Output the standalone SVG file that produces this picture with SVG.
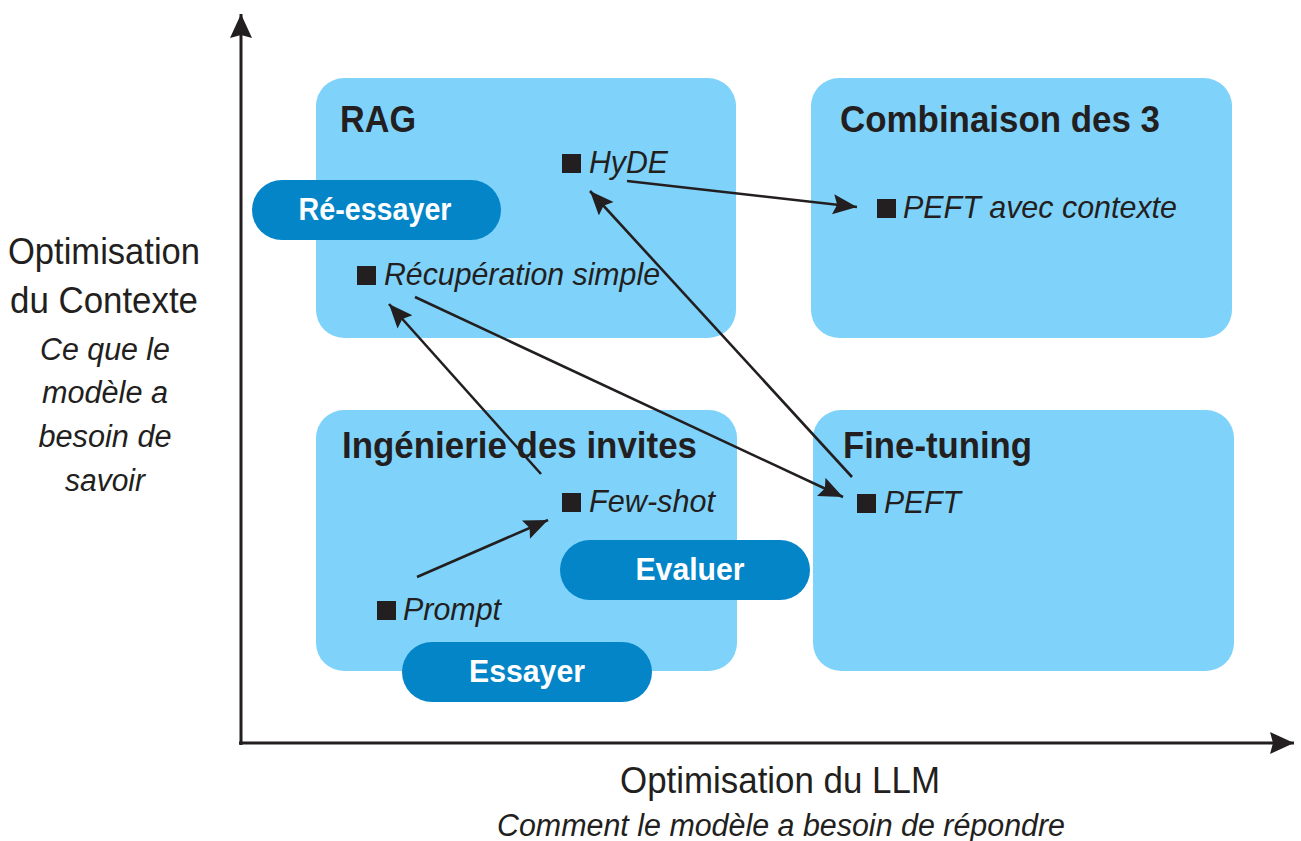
<svg xmlns="http://www.w3.org/2000/svg" width="1301" height="841" viewBox="0 0 1301 841">
<style>
.box{fill:#7fd3fb}
.pill{fill:#0485c8}
.title{font-family:"Liberation Sans",Arial,sans-serif;font-weight:bold;font-size:37px;fill:#231f20}
.item{font-family:"Liberation Sans",Arial,sans-serif;font-style:italic;font-size:32px;fill:#231f20}
.pt{font-family:"Liberation Sans",Arial,sans-serif;font-weight:bold;font-size:32px;fill:#ffffff;text-anchor:middle}
.ax{font-family:"Liberation Sans",Arial,sans-serif;font-size:36px;fill:#231f20;text-anchor:middle}
.axi{font-family:"Liberation Sans",Arial,sans-serif;font-style:italic;font-size:31px;fill:#231f20;text-anchor:middle}
.bul{fill:#231f20}
.conn{stroke:#231f20;stroke-width:2.6;fill:none;marker-end:url(#ah)}
.axis{stroke:#231f20;stroke-width:3;fill:none}
</style>
<defs>
<marker id="ah" markerUnits="userSpaceOnUse" markerWidth="26" markerHeight="22" refX="24" refY="10" orient="auto">
<path d="M0,0 L24,10 L0,20 L4,10 z" fill="#231f20"/>
</marker>
<marker id="axh" markerUnits="userSpaceOnUse" markerWidth="26" markerHeight="24" refX="24" refY="11" orient="auto">
<path d="M0,0 L24,11 L0,22 L3,11 z" fill="#231f20"/>
</marker>
</defs>
<rect width="1301" height="841" fill="#ffffff"/>
<g id="axes">
<line class="axis" x1="241" y1="745" x2="241" y2="14" marker-end="url(#axh)"/>
<line class="axis" x1="239" y1="743" x2="1294" y2="743" marker-end="url(#axh)"/>
</g>
<g id="rag">
<rect class="box" x="316" y="78" width="420" height="260" rx="28"/>
<text class="title" x="340" y="132" textLength="76" lengthAdjust="spacingAndGlyphs">RAG</text>
</g>
<g id="combinaison">
<rect class="box" x="811" y="78" width="421" height="260" rx="28"/>
<text class="title" x="840" y="132" textLength="320" lengthAdjust="spacingAndGlyphs">Combinaison des 3</text>
</g>
<g id="ingenierie">
<rect class="box" x="316" y="410" width="421" height="261" rx="28"/>
<text class="title" x="342" y="458" textLength="355" lengthAdjust="spacingAndGlyphs">Ingénierie des invites</text>
</g>
<g id="finetuning">
<rect class="box" x="813" y="410" width="421" height="261" rx="28"/>
<text class="title" x="843" y="458" textLength="189" lengthAdjust="spacingAndGlyphs">Fine-tuning</text>
</g>
<g id="hyde">
<rect class="bul" x="562" y="154" width="19" height="19"/>
<text class="item" x="589" y="173" textLength="79" lengthAdjust="spacingAndGlyphs">HyDE</text>
</g>
<g id="peft-contexte">
<rect class="bul" x="877" y="199" width="19" height="19"/>
<text class="item" x="903" y="218" textLength="274" lengthAdjust="spacingAndGlyphs">PEFT avec contexte</text>
</g>
<g id="recuperation">
<rect class="bul" x="357" y="266" width="19" height="19"/>
<text class="item" x="384" y="285" textLength="276" lengthAdjust="spacingAndGlyphs">Récupération simple</text>
</g>
<g id="fewshot">
<rect class="bul" x="562" y="493" width="19" height="19"/>
<text class="item" x="589" y="512" textLength="126" lengthAdjust="spacingAndGlyphs">Few-shot</text>
</g>
<g id="prompt">
<rect class="bul" x="377" y="601" width="19" height="19"/>
<text class="item" x="403" y="620" textLength="98" lengthAdjust="spacingAndGlyphs">Prompt</text>
</g>
<g id="peft">
<rect class="bul" x="857" y="494" width="19" height="19"/>
<text class="item" x="884" y="513" textLength="77" lengthAdjust="spacingAndGlyphs">PEFT</text>
</g>
<g id="reessayer">
<rect class="pill" x="252" y="180" width="249" height="60" rx="30"/>
<text class="pt" x="375" y="220" textLength="153" lengthAdjust="spacingAndGlyphs">Ré-essayer</text>
</g>
<g id="evaluer">
<rect class="pill" x="560" y="540" width="250" height="60" rx="30"/>
<text class="pt" x="690" y="580" textLength="109" lengthAdjust="spacingAndGlyphs">Evaluer</text>
</g>
<g id="essayer">
<rect class="pill" x="402" y="642" width="250" height="60" rx="30"/>
<text class="pt" x="527" y="682" textLength="116" lengthAdjust="spacingAndGlyphs">Essayer</text>
</g>
<g id="connectors">
<line class="conn" x1="417" y1="577" x2="548" y2="520"/>
<line class="conn" x1="541" y1="474" x2="389" y2="304"/>
<line class="conn" x1="415" y1="297" x2="843" y2="497"/>
<line class="conn" x1="852" y1="477" x2="590" y2="191"/>
<line class="conn" x1="627" y1="181" x2="857" y2="207"/>
</g>
<g id="labels">
<text class="ax" x="104" y="264" textLength="192" lengthAdjust="spacingAndGlyphs">Optimisation</text>
<text class="ax" x="104" y="313" textLength="188" lengthAdjust="spacingAndGlyphs">du Contexte</text>
<text class="axi" x="105" y="360" textLength="130" lengthAdjust="spacingAndGlyphs">Ce que le</text>
<text class="axi" x="105" y="403" textLength="126" lengthAdjust="spacingAndGlyphs">modèle a</text>
<text class="axi" x="105" y="447" textLength="133" lengthAdjust="spacingAndGlyphs">besoin de</text>
<text class="axi" x="105" y="491" textLength="80" lengthAdjust="spacingAndGlyphs">savoir</text>
<text class="ax" x="780" y="793" font-size="36" textLength="320" lengthAdjust="spacingAndGlyphs">Optimisation du LLM</text>
<text class="axi" x="781" y="836" font-size="31" textLength="568" lengthAdjust="spacingAndGlyphs">Comment le modèle a besoin de répondre</text>
</g>
</svg>
